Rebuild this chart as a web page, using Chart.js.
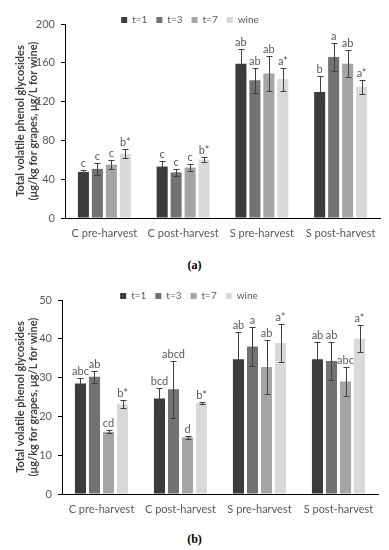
<!DOCTYPE html>
<html>
<head>
<meta charset="utf-8">
<script src="https://cdn.jsdelivr.net/npm/chart.js@4.4.1/dist/chart.umd.min.js"></script>
<style>
    body { margin: 0; background: #fff; width: 389px; height: 550px; position: relative; overflow: hidden; }
    .panel { position: absolute; left: 0; width: 389px; height: 250px; }
    .caption { position: absolute; left: 0; width: 389px; text-align: center; font: bold 12px "Liberation Serif", serif; color: #000; }
</style>
</head>
<body>
<div class="panel" style="top:0"><canvas id="chartA" width="389" height="250"></canvas></div>
<div class="caption" style="top:258px">(a)</div>
<div class="panel" style="top:276px"><canvas id="chartB" width="389" height="250"></canvas></div>
<div class="caption" style="top:532px">(b)</div>
<script>
// Categories and series
const categories = ['C pre-harvest', 'C post-harvest', 'S pre-harvest', 'S post-harvest'];
const seriesNames = ['t=1', 't=3', 't=7', 'wine'];
const seriesColors = ['#3b3b3b', '#767171', '#a5a5a5', '#d9d9d9'];

// Panel (a) values, error bars and letters
const t1A = [47.5, 53, 159, 130];
const t3A = [50.6, 47, 142, 166];
const t7A = [55, 52, 149, 159];
const wineA = [66.3, 60.2, 143, 135];
const t1AErr = [2.5, 5.8, 15, 16];
const t3AErr = [5.8, 4, 13, 14];
const t7AErr = [4.5, 3.4, 18, 14];
const wineAErr = [4.5, 2.7, 12, 7];
const t1ALetters = ['c', 'c', 'ab', 'b'];
const t3ALetters = ['c', 'c', 'ab', 'a'];
const t7ALetters = ['c', 'c', 'ab', 'ab'];
const wineALetters = ['b*', 'b*', 'a*', 'a*'];
const yTicksA = [0, 40, 80, 120, 160, 200];

// Panel (b) values, error bars and letters
const t1B = [28.5, 24.6, 34.7, 34.7];
const t3B = [30.2, 27, 38, 34.3];
const t7B = [16, 14.6, 32.7, 29];
const wineB = [23.1, 23.4, 38.9, 40];
const t1BErr = [1.5, 2.8, 7, 4.5];
const t3BErr = [1.5, 7.3, 5, 4.8];
const t7BErr = [0.4, 0.4, 7, 3.8];
const wineBErr = [1, 0.3, 5, 3.5];
const t1BLetters = ['abc', 'bcd', 'ab', 'ab'];
const t3BLetters = ['ab', 'abcd', 'a', 'ab'];
const t7BLetters = ['cd', 'd', 'ab', 'abc'];
const wineBLetters = ['b*', 'b*', 'a*', 'a*'];
const yTicksB = [0, 10, 20, 30, 40, 50];

const FONT = 'Lato, "Open Sans", sans-serif';
const GREY = '#595959';

// Error bars and significance letters
const errorBars = {
    id: 'errorBars',
    afterDatasetsDraw(chart) {
        const ctx = chart.ctx;
        const y = chart.scales.y;
        chart.data.datasets.forEach((ds, i) => {
            const meta = chart.getDatasetMeta(i);
            meta.data.forEach((bar, j) => {
                const v = ds.data[j], e = ds.errors[j];
                const top = Math.round(y.getPixelForValue(v + e)) + 0.5;
                const bot = Math.round(y.getPixelForValue(v - e)) + 0.5;
                const x = Math.round(bar.x) + 0.5;
                ctx.save();
                ctx.strokeStyle = '#404040';
                ctx.lineWidth = 1;
                ctx.beginPath();
                ctx.moveTo(x, top); ctx.lineTo(x, bot);
                ctx.moveTo(x - 3, top); ctx.lineTo(x + 3, top);
                ctx.moveTo(x - 3, bot); ctx.lineTo(x + 3, bot);
                ctx.stroke();
                ctx.fillStyle = GREY;
                ctx.font = '11px ' + FONT;
                ctx.textAlign = 'center';
                ctx.textBaseline = 'bottom';
                ctx.fillText(ds.letters[j], bar.x, top - 2);
                ctx.restore();
            });
        });
    }
};

// Shrink the space reserved by the legend so it sits just over the plot top
const legendTight = {
    id: 'legendTight',
    beforeInit(chart) {
        const fit = chart.legend.fit;
        chart.legend.fit = function() {
            fit.bind(chart.legend)();
            this.height = 18;
        };
    }
};

function makeChart(id, values, errors, letters, ticks, axisWidth, rightPad) {
    const datasets = seriesNames.map((name, k) => ({
        label: name,
        data: values[k],
        errors: errors[k],
        letters: letters[k],
        backgroundColor: seriesColors[k],
        borderWidth: 0,
        categoryPercentage: 0.71,
        barPercentage: 0.79
    }));
    return new Chart(document.getElementById(id), {
        type: 'bar',
        data: { labels: categories, datasets: datasets },
        options: {
            responsive: false,
            animation: false,
            layout: { padding: { top: 6, left: 0, right: rightPad, bottom: 0 } },
            plugins: {
                legend: {
                    position: 'top',
                    labels: {
                        boxWidth: 6,
                        boxHeight: 6,
                        padding: 9,
                        color: GREY,
                        font: { family: FONT, size: 10 }
                    }
                },
                tooltip: { enabled: false }
            },
            scales: {
                x: {
                    grid: { display: false, drawTicks: false },
                    border: { display: true, color: '#000', width: 1 },
                    ticks: { color: GREY, padding: 9, font: { family: FONT, size: 11 } },
                    afterFit(scale) { scale.height = 32; }
                },
                y: {
                    min: ticks[0],
                    max: ticks[ticks.length - 1],
                    afterBuildTicks(scale) { scale.ticks = ticks.map(v => ({ value: v })); },
                    grid: { drawOnChartArea: false, drawTicks: true, tickLength: 4, color: '#000' },
                    border: { display: true, color: '#000', width: 1 },
                    ticks: { color: GREY, padding: 6, font: { family: FONT, size: 11 } },
                    title: {
                        display: true,
                        text: ['Total volatile phenol glycosides', '(\u03bcg/kg for grapes, \u03bcg/L for wine)'],
                        color: '#404040',
                        padding: { top: 14, bottom: 0 },
                        font: { family: FONT, size: 11, weight: 'bold', lineHeight: 1.15 }
                    },
                    afterFit(scale) { scale.width = axisWidth; }
                }
            }
        },
        plugins: [errorBars, legendTight]
    });
}

makeChart('chartA', [t1A, t3A, t7A, wineA], [t1AErr, t3AErr, t7AErr, wineAErr],
    [t1ALetters, t3ALetters, t7ALetters, wineALetters], yTicksA, 65, 9);
makeChart('chartB', [t1B, t3B, t7B, wineB], [t1BErr, t3BErr, t7BErr, wineBErr],
    [t1BLetters, t3BLetters, t7BLetters, wineBLetters], yTicksB, 62, 11);
</script>
</body>
</html>
